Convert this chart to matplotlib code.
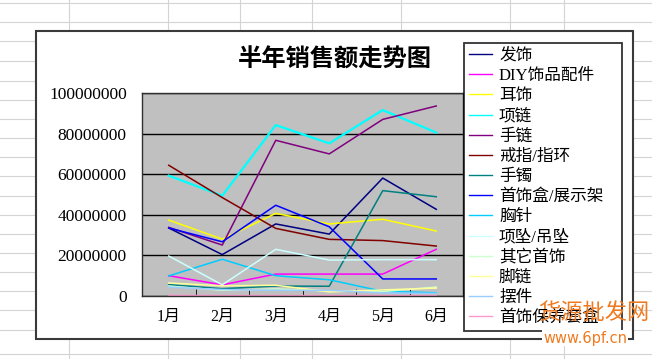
import numpy as np
import matplotlib
matplotlib.use('Agg')
import matplotlib.pyplot as plt
from matplotlib.patches import Rectangle
from matplotlib.lines import Line2D

plt.rcParams['font.family'] = ['Liberation Serif', 'Noto Sans CJK SC', 'DejaVu Sans']

# monthly sales, in millions
months = ['1月', '2月', '3月', '4月', '5月', '6月']
names = ['发饰', 'DIY饰品配件', '耳饰', '项链', '手链', '戒指/指环', '手镯',
         '首饰盒/展示架', '胸针', '项坠/吊坠', '其它首饰', '脚链', '摆件', '首饰保养套盒']
hair = [33.5, 20.4, 35.5, 30.5, 58.1, 42.7]
diy = [10.0, 5.5, 10.8, 10.8, 10.8, 23.0]
earring = [37.4, 28.0, 40.7, 35.5, 37.8, 32.0]
necklace = [59.3, 49.4, 84.2, 75.2, 91.6, 80.5]
bracelet = [33.8, 25.1, 76.7, 70.0, 87.0, 93.6]
ring = [64.4, 48.5, 33.3, 27.9, 27.3, 24.6]
bangle = [5.6, 3.6, 4.9, 4.8, 51.9, 48.9]
jewel_box = [33.5, 26.7, 44.7, 34.1, 8.4, 8.4]
brooch = [9.9, 18.1, 10.0, 8.0, 2.3, 1.6]
pendant = [19.7, 5.5, 23.0, 17.7, 17.9, 17.9]
others = [4.9, 2.8, 3.5, 2.5, 2.2, 4.4]
anklet = [6.4, 5.0, 5.3, 2.0, 3.0, 3.9]
ornament = [4.4, 3.2, 2.8, 2.8, 1.5, 1.3]
care_kit = [0.3, 0.2, 0.2, 0.2, 0.2, 0.2]
series = [hair, diy, earring, necklace, bracelet, ring, bangle,
          jewel_box, brooch, pendant, others, anklet, ornament, care_kit]

# excel 2003 default line colours
colors = ['#000080', '#FF00FF', '#FFFF00', '#00FFFF', '#800080', '#800000', '#008080',
          '#0000FF', '#00CCFF', '#CCFFFF', '#CCFFCC', '#FFFF99', '#99CCFF', '#FF99CC']

W, H = 652, 359
fig = plt.figure(figsize=(W / 100, H / 100), dpi=100)


def fx(px):
    return px / W


def fy(py):
    return 1 - py / H


# spreadsheet cells behind the chart
for py in [3, 22, 41, 61, 81, 100, 119, 138, 157, 176, 196, 215, 234, 253, 272, 291, 310, 330, 354]:
    fig.add_artist(Line2D([0, 1], [fy(py), fy(py)], transform=fig.transFigure,
                          color='#d4d4d4', lw=0.8, zorder=0))
for px in [69, 168, 240, 312, 401, 510, 564]:
    fig.add_artist(Line2D([fx(px), fx(px)], [0, 1], transform=fig.transFigure,
                          color='#d4d4d4', lw=0.8, zorder=0))

# chart area
fig.add_artist(Rectangle((fx(36), fy(339)), fx(633) - fx(36), fy(31) - fy(339),
                         transform=fig.transFigure, facecolor='white',
                         edgecolor='#3a3a3a', lw=1.5, zorder=1))

ax = fig.add_axes([fx(142), fy(296), fx(463) - fx(142), fy(93) - fy(296)], zorder=2)
ax.set_facecolor('#C0C0C0')
x = np.arange(1, len(months) + 1)
for vals, name, c in zip(series, names, colors):
    lw = 1.6 if name == '项链' else 1.1
    ax.plot(x, np.array(vals) * 1e6, color=c, lw=lw, label=name, clip_on=False)

ax.set_xlim(0.5, 6.5)
ax.set_ylim(0, 100000000)
ax.set_yticks(np.arange(0, 100000001, 20000000))
ax.yaxis.set_major_formatter(matplotlib.ticker.FuncFormatter(lambda v, p: '%d' % v))
ax.grid(axis='y', color='black', lw=1)
ax.set_axisbelow(True)
ax.set_xticks(x)
ax.set_xticklabels(months, fontsize=11.5)
ax.set_xticks(np.arange(1.5, 6.5, 1), minor=True)
ax.tick_params(axis='x', which='major', length=0, pad=9)
ax.tick_params(axis='x', which='minor', length=5, direction='in', color='black')
ax.tick_params(axis='y', length=0, pad=11, labelsize=12.5)
for s in ax.spines.values():
    s.set_color('#303030')
    s.set_linewidth(1)

ax.set_title('半年销售额走势图', fontsize=17.5, fontweight='bold',
             family=['Noto Sans CJK SC'], x=fx(335 - 142) / (fx(463) - fx(142)),
             y=1.0, pad=19)

leg = fig.legend(loc='upper left', mode='expand',
                 bbox_to_anchor=(fx(464), fy(328), fx(622) - fx(464), fy(43) - fy(328)),
                 frameon=True, fancybox=False, borderaxespad=0, borderpad=0.3,
                 labelspacing=0.25, handlelength=1.4, handletextpad=0.4,
                 prop={'family': ['Liberation Serif', 'Noto Sans CJK SC'], 'size': 12})
leg.get_frame().set_edgecolor('black')
leg.get_frame().set_linewidth(1.3)
leg.set_zorder(3)
for line in leg.get_lines():
    line.set_linewidth(1.0)

# site watermark
fig.text(fx(594), fy(312), '货源批发网', color='#F07A20', fontsize=16,
         family=['Noto Sans CJK SC'], ha='center', va='center', zorder=5, style='italic')
fig.text(fx(585), fy(338), 'www.6pf.cn', color='#F07A20', fontsize=10.5,
         family=['DejaVu Sans'], ha='center', va='center', zorder=5,
         bbox=dict(facecolor='white', edgecolor='none', pad=0.5))

fig.savefig('out.png', dpi=100)
